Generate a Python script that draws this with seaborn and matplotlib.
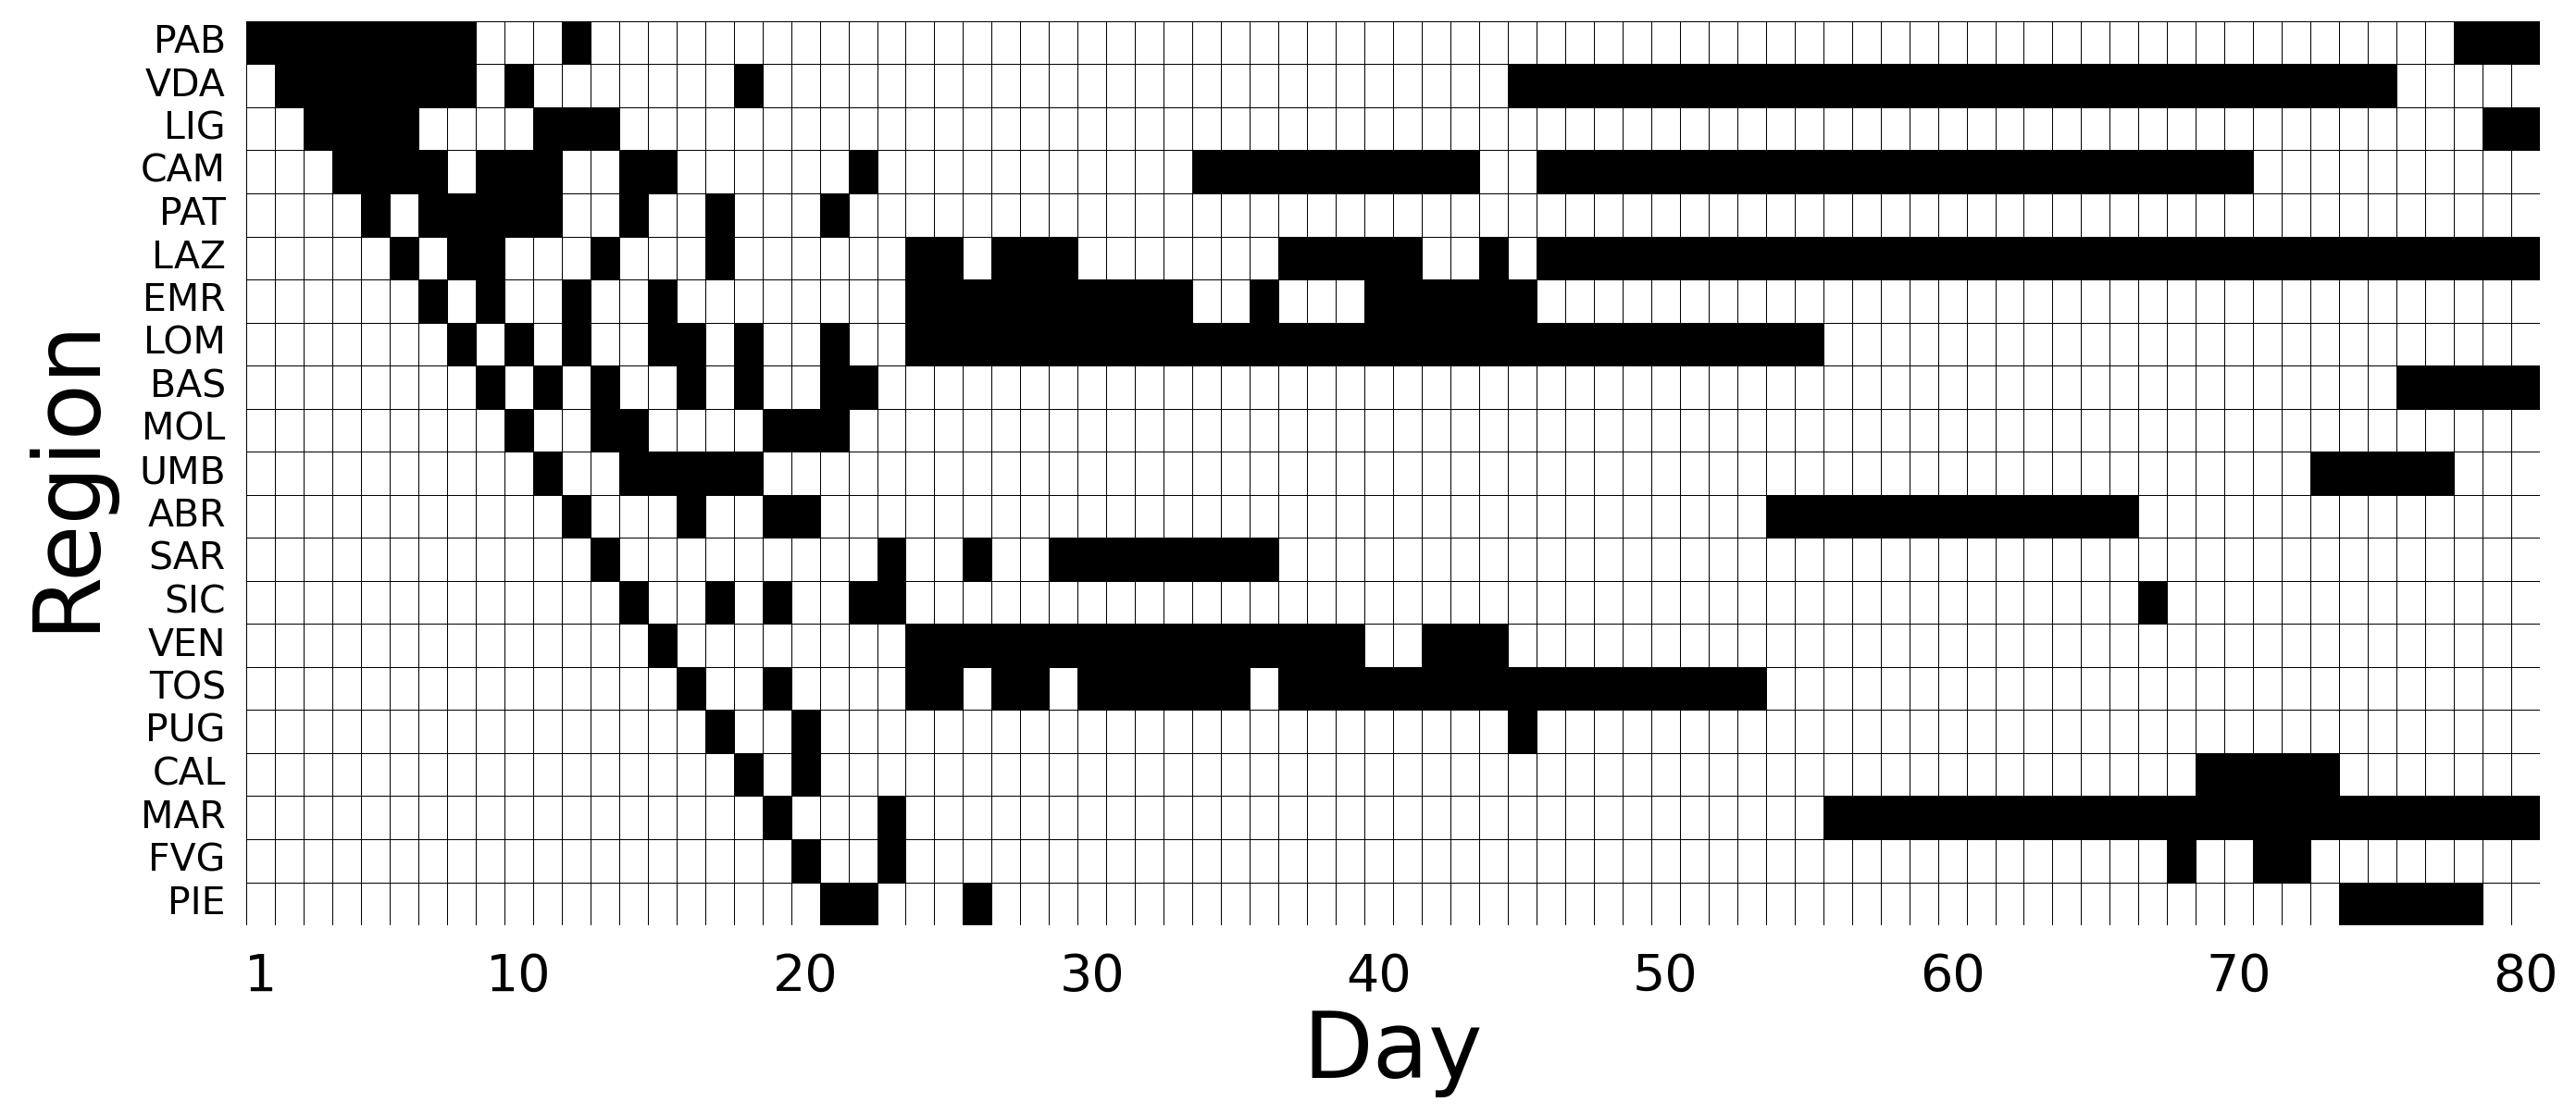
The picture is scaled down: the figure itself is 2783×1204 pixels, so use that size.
import numpy as np
import pandas as pd
import matplotlib
matplotlib.use("Agg")
import matplotlib.pyplot as plt
import seaborn as sns
from matplotlib.colors import ListedColormap

# Regions (top to bottom) and active-day intervals (inclusive)
regions = ["PAB", "VDA", "LIG", "CAM", "PAT", "LAZ", "EMR", "LOM", "BAS", "MOL", "UMB",
           "ABR", "SAR", "SIC", "VEN", "TOS", "PUG", "CAL", "MAR", "FVG", "PIE"]

PAB = [(1, 8), (12, 12), (78, 80)]
VDA = [(2, 8), (10, 10), (18, 18), (45, 75)]
LIG = [(3, 6), (11, 13), (79, 80)]
CAM = [(4, 7), (9, 11), (14, 15), (22, 22), (34, 43), (46, 70)]
PAT = [(5, 5), (7, 11), (14, 14), (17, 17), (21, 21)]
LAZ = [(6, 6), (8, 9), (13, 13), (17, 17), (24, 25), (27, 29), (37, 41), (44, 44), (46, 80)]
EMR = [(7, 7), (9, 9), (12, 12), (15, 15), (24, 33), (36, 36), (40, 45)]
LOM = [(8, 8), (10, 10), (12, 12), (15, 16), (18, 18), (21, 21), (24, 55)]
BAS = [(9, 9), (11, 11), (13, 13), (16, 16), (18, 18), (21, 22), (76, 80)]
MOL = [(10, 10), (13, 14), (19, 21)]
UMB = [(11, 11), (14, 18), (73, 77)]
ABR = [(12, 12), (16, 16), (19, 20), (54, 66)]
SAR = [(13, 13), (23, 23), (26, 26), (29, 36)]
SIC = [(14, 14), (17, 17), (19, 19), (22, 23), (67, 67)]
VEN = [(15, 15), (24, 39), (42, 44)]
TOS = [(16, 16), (19, 19), (24, 25), (27, 28), (30, 35), (37, 53)]
PUG = [(17, 17), (20, 20), (45, 45)]
CAL = [(18, 18), (20, 20), (69, 73)]
MAR = [(19, 19), (23, 23), (56, 80)]
FVG = [(20, 20), (23, 23), (68, 68), (71, 72)]
PIE = [(21, 22), (26, 26), (74, 78)]

intervals = [PAB, VDA, LIG, CAM, PAT, LAZ, EMR, LOM, BAS, MOL, UMB,
             ABR, SAR, SIC, VEN, TOS, PUG, CAL, MAR, FVG, PIE]
n_days = 80
days = list(range(1, n_days + 1))
xtick_days = [1, 10, 20, 30, 40, 50, 60, 70, 80]

rows = []
for iv in intervals:
    r = [0] * n_days
    for a, b in iv:
        for d in range(a, b + 1):
            r[d - 1] = 1
    rows.append(r)
df = pd.DataFrame(rows, index=regions, columns=days)

sns.set_style("white")
plt.rcParams['font.family'] = ['DejaVu Sans']
for k in ['text.color', 'axes.labelcolor', 'xtick.color', 'ytick.color']:
    plt.rcParams[k] = 'black'

fig = plt.figure(figsize=(27.83, 12.04), dpi=100)
ax = fig.add_axes([0.0956, 0.1694, 0.986 - 0.0956, 0.981 - 0.1694])
sns.heatmap(df, ax=ax, cmap=ListedColormap(["white", "black"]), cbar=False,
            linewidths=0.6, linecolor="black", vmin=0, vmax=1)

ax.set_xticks([d - 0.5 for d in xtick_days])
ax.set_xticklabels([str(d) for d in xtick_days], rotation=0, fontsize=40)
ax.set_yticks([i + 0.5 for i in range(len(regions))])
ax.set_yticklabels(regions, rotation=0, fontsize=29.5)
ax.tick_params(axis='both', which='both', length=7, width=1.2, color='black')
ax.tick_params(axis='x', pad=14)
ax.tick_params(axis='y', pad=9)
ax.set_xlabel("Day", fontsize=71)
ax.set_ylabel("Region", fontsize=72, labelpad=22)

fig.savefig("out.png", dpi=100)
